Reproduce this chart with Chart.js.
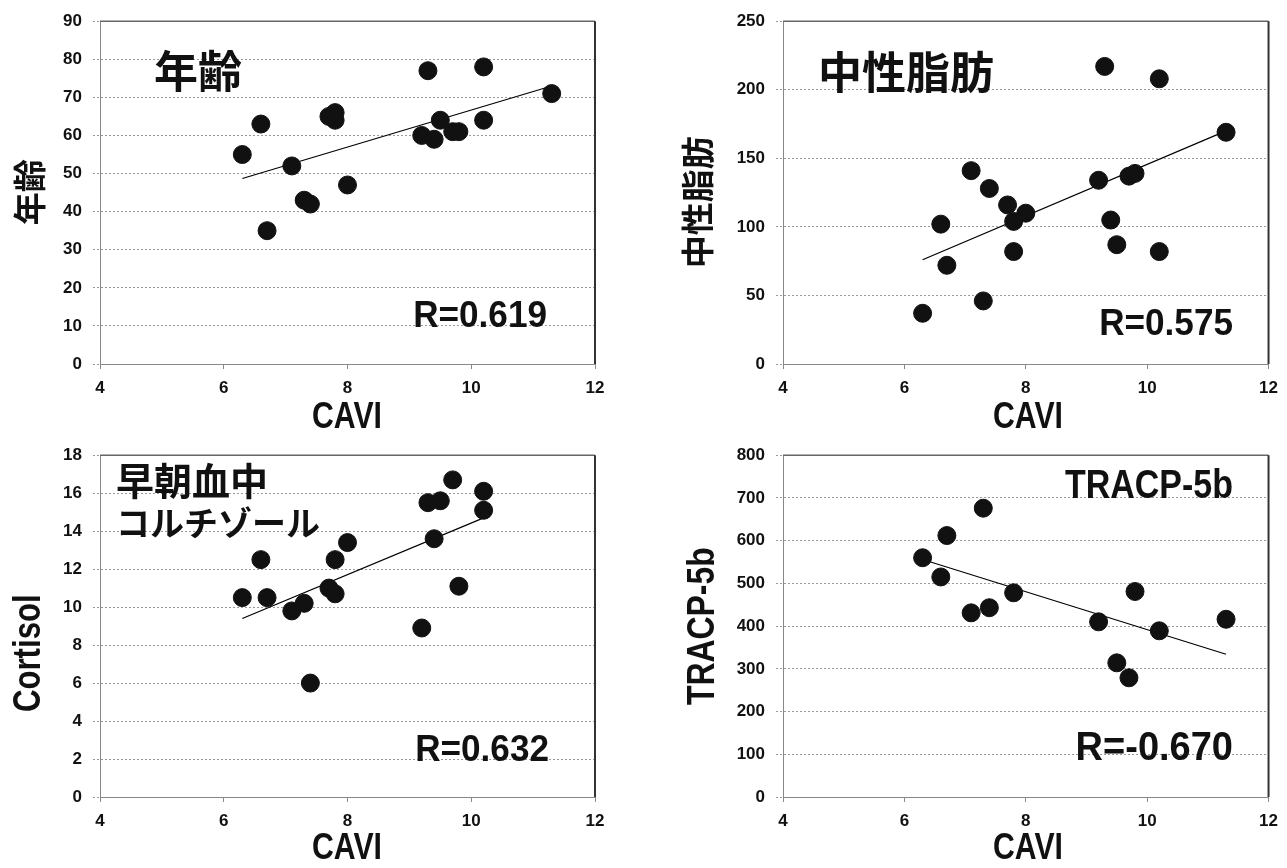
<!DOCTYPE html>
<html>
<head>
<meta charset="utf-8">
<script src="https://cdn.jsdelivr.net/npm/chart.js@4.4.1/dist/chart.umd.min.js"></script>
<style>
  body { margin: 0; background: #fff; }
  #wrap { position: relative; width: 1287px; height: 868px; }
  canvas { position: absolute; }
</style>
</head>
<body>
<div id="wrap">
  <canvas id="c1" width="643" height="434" style="left:0;top:0"></canvas>
  <canvas id="c2" width="644" height="434" style="left:643px;top:0"></canvas>
  <canvas id="c3" width="643" height="434" style="left:0;top:434px"></canvas>
  <canvas id="c4" width="644" height="434" style="left:643px;top:434px"></canvas>
</div>
<script>
// CAVI vs age / triglyceride (19 subjects)
const caviAll = [6.3, 6.6, 6.7, 7.1, 7.3, 7.4, 7.7, 7.8, 7.8, 8.0, 9.2, 9.3, 9.4, 9.5, 9.7, 9.8, 10.2, 10.2, 11.3];
const age = [55, 63, 35, 52, 43, 42, 65, 66, 64, 47, 60, 77, 59, 64, 61, 61, 78, 64, 71];
const tg = [37, 102, 72, 141, 46, 128, 116, 104, 82, 110, 134, 217, 105, 87, 137, 139, 208, 82, 169];

// CAVI vs morning cortisol
const caviCort = [6.3, 6.6, 6.7, 7.1, 7.3, 7.4, 7.7, 7.8, 7.8, 8.0, 9.2, 9.3, 9.4, 9.5, 9.7, 9.8, 10.2, 10.2];
const cortisol = [10.5, 12.5, 10.5, 9.8, 10.2, 6.0, 11.0, 12.5, 10.7, 13.4, 8.9, 15.5, 13.6, 15.6, 16.7, 11.1, 16.1, 15.1];

// CAVI vs TRACP-5b
const caviTracp = [6.3, 6.6, 6.7, 7.1, 7.3, 7.4, 7.8, 9.2, 9.5, 9.7, 9.8, 10.2, 11.3];
const tracp = [560, 515, 612, 431, 676, 443, 478, 410, 314, 279, 481, 389, 416];

// trend lines (end points)
const ageFitX = [6.3, 11.3], ageFitY = [48.7, 73.0];
const tgFitX = [6.3, 11.3], tgFitY = [76, 170];
const cortFitX = [6.3, 10.2], cortFitY = [9.4, 14.7];
const tracpFitX = [6.3, 11.3], tracpFitY = [556, 334];

// axis ranges [min, max, step]
const caviAxis = [4, 12, 2];
const ageAxis = [0, 90, 10];
const tgAxis = [0, 250, 50];
const cortAxis = [0, 18, 2];
const tracpAxis = [0, 800, 100];

const SANS = "'Liberation Sans', Arial, sans-serif";
const CJK = "'Noto Sans CJK JP', sans-serif";

// texts: annotations and axis titles, drawn relative to the chart area.
// sx -> horizontal squeeze, to look like the narrow gothic face of the original
const decor = {
    id: 'decor',
    beforeDatasetsDraw(chart, args, opts) {
        const ctx = chart.ctx, a = chart.chartArea;
        (opts.labels || []).forEach(l => {
            ctx.save();
            ctx.fillStyle = '#111';
            ctx.font = 'bold ' + l.size + 'px ' + (l.sx ? SANS : CJK);
            ctx.textAlign = l.align;
            ctx.textBaseline = l.base;
            ctx.translate(a.left + l.dx, a.top + l.dy);
            if (l.rot) ctx.rotate(-Math.PI / 2);
            if (l.sx) ctx.scale(l.sx, 1);
            ctx.fillText(l.text, 0, 0);
            ctx.restore();
        });
    },
    afterDraw(chart) {
        const ctx = chart.ctx, a = chart.chartArea;
        ctx.save();
        ctx.strokeStyle = '#666';
        ctx.lineWidth = 1.5;
        ctx.beginPath(); ctx.moveTo(a.left, a.top); ctx.lineTo(a.right, a.top); ctx.stroke();
        ctx.strokeStyle = '#333';
        ctx.lineWidth = 2;
        ctx.beginPath(); ctx.moveTo(a.right, a.top); ctx.lineTo(a.right, a.bottom); ctx.stroke();
        ctx.restore();
    }
};

function pts(xs, ys) {
    return xs.map((x, i) => ({ x: x, y: ys[i] }));
}

function makeChart(id, c) {
    new Chart(document.getElementById(id), {
        type: 'scatter',
        data: {
            datasets: [
                {
                    data: pts(c.xs, c.ys),
                    backgroundColor: '#111',
                    borderColor: '#111',
                    pointRadius: 9,
                    pointHoverRadius: 9
                },
                {
                    data: pts(c.fitX, c.fitY),
                    showLine: true,
                    borderColor: '#000',
                    borderWidth: 1.2,
                    pointRadius: 0
                }
            ]
        },
        options: {
            responsive: false,
            animation: false,
            layout: { padding: c.pad },
            plugins: {
                legend: { display: false },
                tooltip: { enabled: false },
                decor: { labels: c.labels }
            },
            scales: {
                x: {
                    type: 'linear',
                    min: caviAxis[0], max: caviAxis[1],
                    ticks: { stepSize: caviAxis[2], padding: 9, color: '#111', font: { family: SANS, size: 17, weight: 'bold' } },
                    grid: { drawOnChartArea: false, tickLength: 5, tickColor: '#888' },
                    border: { display: true, color: '#888', dash: [2, 2] },
                    afterFit: s => { s.height = c.xh; }
                },
                y: {
                    min: c.yAxis[0], max: c.yAxis[1],
                    ticks: { stepSize: c.yAxis[2], padding: 11, color: '#111', font: { family: SANS, size: 17, weight: 'bold' } },
                    grid: { color: '#999', tickLength: 7, tickColor: '#999', tickBorderDash: [2, 2] },
                    border: { display: true, color: '#888', dash: [2, 2] },
                    afterFit: s => { s.width = c.yw; }
                }
            }
        },
        plugins: [decor]
    });
}

makeChart('c1', {
    xs: caviAll, ys: age, fitX: ageFitX, fitY: ageFitY, yAxis: ageAxis,
    pad: { left: 0, top: 19, right: 48, bottom: 0 }, yw: 100, xh: 70,
    labels: [
        { text: '年齢', size: 44, align: 'left', base: 'middle', dx: 54, dy: 50 },
        { text: 'R=0.619', sx: 0.95, size: 37, align: 'right', base: 'alphabetic', dx: 447, dy: 306 },
        { text: 'CAVI', sx: 0.84, size: 36, align: 'center', base: 'middle', dx: 247, dy: 397 },
        { text: '年齢', size: 33, align: 'center', base: 'middle', dx: -71, dy: 171, rot: true }
    ]
});

makeChart('c2', {
    xs: caviAll, ys: tg, fitX: tgFitX, fitY: tgFitY, yAxis: tgAxis,
    pad: { left: 0, top: 19, right: 13, bottom: 0 }, yw: 140, xh: 70,
    labels: [
        { text: '中性脂肪', size: 44, align: 'left', base: 'middle', dx: 35, dy: 51 },
        { text: 'R=0.575', sx: 0.95, size: 37, align: 'right', base: 'alphabetic', dx: 450, dy: 314 },
        { text: 'CAVI', sx: 0.84, size: 36, align: 'center', base: 'middle', dx: 245, dy: 397 },
        { text: '中性脂肪', size: 33, align: 'center', base: 'middle', dx: -86, dy: 181, rot: true }
    ]
});

makeChart('c3', {
    xs: caviCort, ys: cortisol, fitX: cortFitX, fitY: cortFitY, yAxis: cortAxis,
    pad: { left: 0, top: 18, right: 48, bottom: 4 }, yw: 100, xh: 67,
    labels: [
        { text: '早朝血中', size: 38, align: 'left', base: 'middle', dx: 16, dy: 25 },
        { text: 'コルチゾール', size: 34, align: 'left', base: 'middle', dx: 16, dy: 68 },
        { text: 'R=0.632', sx: 0.95, size: 37, align: 'right', base: 'alphabetic', dx: 449, dy: 306 },
        { text: 'CAVI', sx: 0.84, size: 36, align: 'center', base: 'middle', dx: 247, dy: 394 },
        { text: 'Cortisol', sx: 0.82, size: 38, align: 'center', base: 'middle', dx: -70, dy: 198, rot: true }
    ]
});

makeChart('c4', {
    xs: caviTracp, ys: tracp, fitX: tracpFitX, fitY: tracpFitY, yAxis: tracpAxis,
    pad: { left: 0, top: 18, right: 13, bottom: 4 }, yw: 140, xh: 67,
    labels: [
        { text: 'TRACP-5b', sx: 0.85, size: 40, align: 'right', base: 'alphabetic', dx: 450, dy: 43 },
        { text: 'R=-0.670', sx: 0.95, size: 40, align: 'right', base: 'alphabetic', dx: 450, dy: 305 },
        { text: 'CAVI', sx: 0.84, size: 36, align: 'center', base: 'middle', dx: 245, dy: 394 },
        { text: 'TRACP-5b', sx: 0.84, size: 38, align: 'center', base: 'middle', dx: -79, dy: 171, rot: true }
    ]
});
</script>
</body>
</html>
